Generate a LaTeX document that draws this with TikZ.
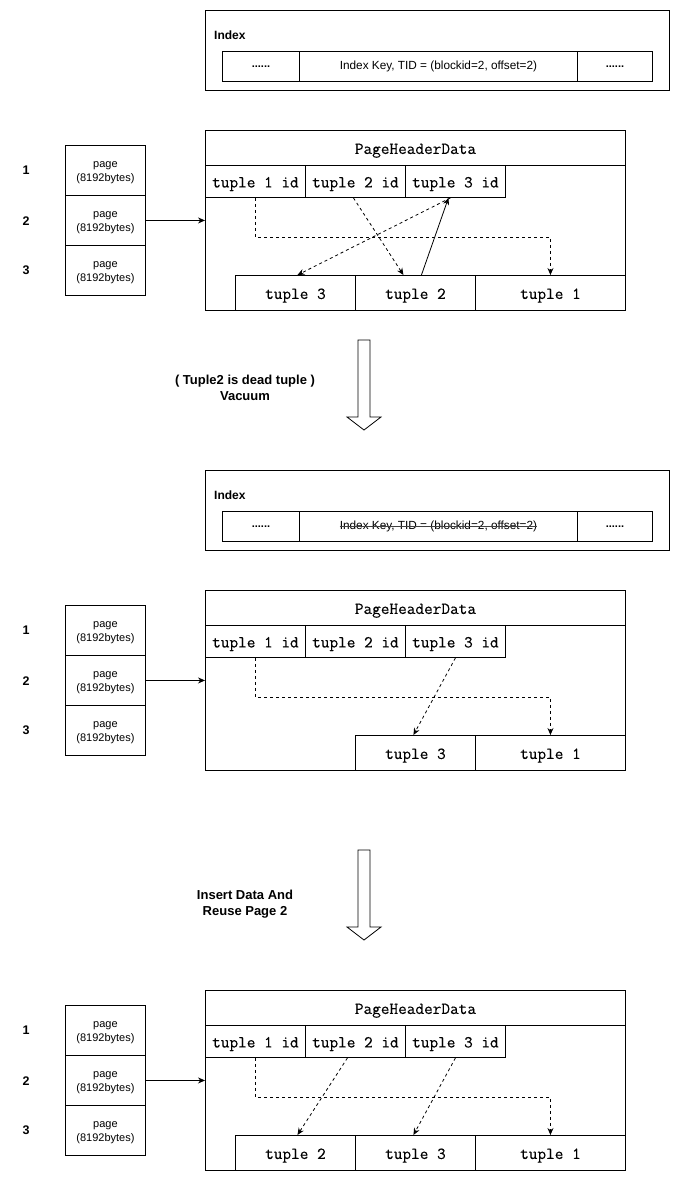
\documentclass[tikz,border=0pt]{standalone}
\usepackage{fontspec}
\setmainfont{Liberation Sans}
\newfontfamily\monof[FakeBold=0.25]{Latin Modern Mono}
\usetikzlibrary{arrows.meta,calc}
\tikzset{
 box/.style={draw=black, line width=0.9pt, inner sep=0pt, anchor=north west},
 pagebox/.style={box, minimum width=80pt, minimum height=50pt},
 pagetext/.style={inner sep=0pt, align=center, font=\fontsize{11}{14.5}\selectfont},
 monofont/.style={font=\fontsize{16.8}{18}\selectfont\monof, text height=12pt, text depth=0pt},
 idbox/.style={box, monofont, minimum width=100pt, minimum height=32pt},
 tupbox/.style={box, monofont, minimum height=35pt},
 numlbl/.style={font=\fontsize{12.5}{14}\selectfont\bfseries},
 idxcell/.style={box, minimum height=30pt, font=\fontsize{11.8}{13}\selectfont},
 ptr/.style={line width=0.8pt, -{Stealth[length=7pt,width=6pt]}},
 dptr/.style={ptr, dash pattern=on 3pt off 3pt},
 blockarrow/.style={draw=black, line width=0.8pt, fill=white, line join=miter},
 caption/.style={align=center, font=\fontsize{13}{15.5}\selectfont\bfseries},
}
\newcommand\idxsec[2]{%
 \node[box, minimum width=464pt, minimum height=80pt] (#1outer) at (205,10) {};
 \node[anchor=west, inner sep=0pt, font=\fontsize{12}{14}\selectfont\bfseries] (#1lbl) at (214,35) {Index};
 \node[idxcell, minimum width=77pt, font=\fontsize{11}{13}\selectfont\bfseries] (#1c1) at (222,51) {......};
 \node[idxcell, minimum width=278pt] (#1c2) at (299,51) {#2};
 \node[idxcell, minimum width=75pt, font=\fontsize{11}{13}\selectfont\bfseries] (#1c3) at (577,51) {......};
}
\newcommand\pagesec[1]{%
 \node[numlbl] (#1n1) at (26,170) {1};
 \node[numlbl] (#1n2) at (26,221) {2};
 \node[numlbl] (#1n3) at (26,270) {3};
 \node[pagebox] (#1p1) at (65,145) {};
 \node[pagebox] (#1p2) at (65,195) {};
 \node[pagebox] (#1p3) at (65,245) {};
 \node[pagetext] (#1t1) at ([yshift=-2pt]#1p1.center) {page\\(8192bytes)};
 \node[pagetext] (#1t2) at ([yshift=-2pt]#1p2.center) {page\\(8192bytes)};
 \node[pagetext] (#1t3) at ([yshift=-2pt]#1p3.center) {page\\(8192bytes)};
 \node[box, minimum width=420pt, minimum height=180pt] (#1frame) at (205,130) {};
 \node[box, monofont, minimum width=420pt, minimum height=35pt] (#1hdr) at (205,130) {PageHeaderData};
 \node[idbox] (#1id1) at (205,165) {tuple 1 id};
 \node[idbox] (#1id2) at (305,165) {tuple 2 id};
 \node[idbox] (#1id3) at (405,165) {tuple 3 id};
 \draw[ptr] (#1p2.east) -- (#1frame.west);
}
\begin{document}
\begin{tikzpicture}[x=1pt, y=-1pt]
\useasboundingbox (0,0) rectangle (681,1181);

% ---------- section 1 ----------
\idxsec{a}{Index Key, TID = (blockid=2, offset=2)}
\pagesec{a}
\node[tupbox, minimum width=120pt] (atup3) at (235,275) {tuple 3};
\node[tupbox, minimum width=120pt] (atup2) at (355,275) {tuple 2};
\node[tupbox, minimum width=150pt] (atup1) at (475,275) {tuple 1};
\draw[dptr] (aid1.south) -- ++(0,39) -| (atup1.north);
\draw[dptr] ([xshift=-2pt]aid2.south) -- ([xshift=-12pt]atup2.north);
\draw[dptr] ([xshift=-5pt]aid3.south) -- ([xshift=2pt]atup3.north);
\draw[ptr] ([xshift=6pt]atup2.north) -- ([xshift=-7pt]aid3.south);

% ---------- vacuum arrow ----------
\draw[blockarrow] (358,340) -- (370,340) -- (370,417) -- (381,417) -- (364,430) -- (347,417) -- (358,417) -- cycle;
\node[caption] (cap1) at (245,388) {( Tuple2 is dead tuple )\\Vacuum};

% ---------- section 2 ----------
\begin{scope}[shift={(0,460)}]
\idxsec{b}{}
\node[inner sep=0pt, font=\fontsize{11.8}{13}\selectfont] (bkey) at (bc2.center) {Index Key, TID = (blockid=2, offset=2)};
\draw[line width=0.8pt, black!75] (bkey.west) -- (bkey.east);
\end{scope}
\begin{scope}[shift={(0,460)}]
\pagesec{b}
\node[tupbox, minimum width=120pt] (btup3) at (355,275) {tuple 3};
\node[tupbox, minimum width=150pt] (btup1) at (475,275) {tuple 1};
\draw[dptr] (bid1.south) -- ++(0,39) -| (btup1.north);
\draw[dptr] (bid3.south) -- ([xshift=-2pt]btup3.north);
\end{scope}

% ---------- insert arrow ----------
\draw[blockarrow] (358,850) -- (370,850) -- (370,927) -- (381,927) -- (364,940) -- (347,927) -- (358,927) -- cycle;
\node[caption] (cap2) at (245,904) {Insert Data And\\Reuse Page 2};

% ---------- section 3 ----------
\begin{scope}[shift={(0,860)}]
\pagesec{c}
\node[tupbox, minimum width=120pt] (ctup2) at (235,275) {tuple 2};
\node[tupbox, minimum width=120pt] (ctup3) at (355,275) {tuple 3};
\node[tupbox, minimum width=150pt] (ctup1) at (475,275) {tuple 1};
\draw[dptr] (cid1.south) -- ++(0,39) -| (ctup1.north);
\draw[dptr] ([xshift=-8pt]cid2.south) -- ([xshift=2pt]ctup2.north);
\draw[dptr] (cid3.south) -- ([xshift=-2pt]ctup3.north);
\end{scope}
\end{tikzpicture}
\end{document}
